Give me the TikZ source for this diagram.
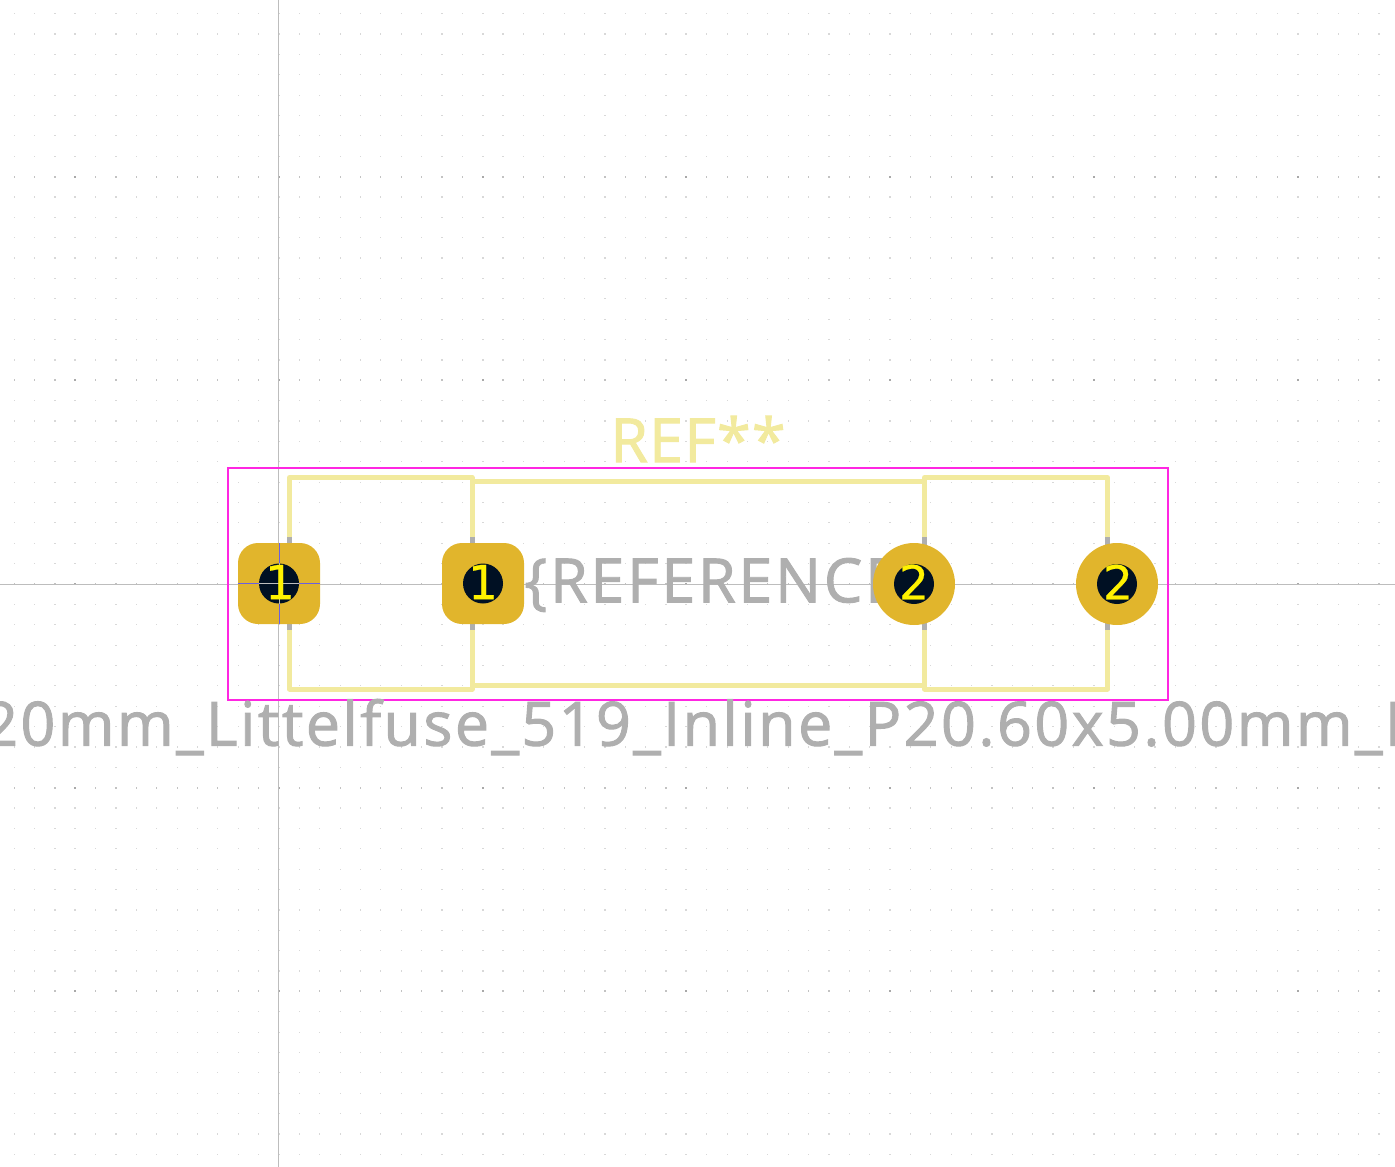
\documentclass[tikz,border=0pt]{standalone}
\usepackage{fontspec}
\setmainfont{Open Sans}
\newfontfamily\silkfont[LetterSpace=2,FakeBold=1.6]{Open Sans}
\newfontfamily\valuefont[LetterSpace=4.5,FakeBold=1.6]{Open Sans}
\newfontfamily\namefont[LetterSpace=4,FakeBold=1.6]{Open Sans}
\newfontfamily\padfont[FakeBold=0.5]{DejaVu Sans}
\definecolor{silk}{HTML}{F2EA9E}
\definecolor{fabgray}{HTML}{AFAFAF}
\definecolor{court}{HTML}{FF26E2}
\definecolor{padgold}{HTML}{E1B52C}
\definecolor{holedark}{HTML}{001023}
\definecolor{griddot}{HTML}{D8D8D8}
\definecolor{gridmajor}{HTML}{A8A8A8}
\definecolor{axisgray}{HTML}{BDBDBD}
\definecolor{crossblue}{HTML}{6A5FE0}
\tikzset{
    silkline/.style={draw=silk, line width=5pt, line join=round},
    fabline/.style={draw=fabgray, line width=5pt},
    padrect/.style={rectangle, rounded corners=20pt, fill=padgold, minimum width=82pt, minimum height=81pt, inner sep=0pt},
    padround/.style={circle, fill=padgold, minimum size=82pt, inner sep=0pt},
    padhole/.style={circle, fill=holedark, minimum size=40pt, inner sep=0pt},
    padnum/.style={text=yellow, inner sep=0pt, font=\padfont\fontsize{47}{47}\selectfont},
    fabtext/.style={text=fabgray, inner sep=0pt}
}
\begin{document}
\begin{tikzpicture}[x=1pt, y=-1pt]
    \useasboundingbox (0,0) rectangle (1395,1167);
    \clip (0,0) rectangle (1395,1167);

    % grid
    \foreach \i in {-13,...,54} {
        \foreach \j in {-28,...,28} {
            \fill[griddot] (279+20.37*\i-0.6, 584+20.37*\j-0.6) rectangle +(1.2,1.2);
        }
    }
    \foreach \i in {-1,0,...,5} {
        \foreach \j in {-28,...,28} {
            \fill[griddot] (279+203.7*\i-1, 584+20.37*\j-0.6) rectangle +(2,1.2);
        }
    }
    \foreach \i in {-13,...,54} {
        \foreach \j in {-2,...,2} {
            \fill[griddot!90!black] (279+20.37*\i-0.6, 584+203.7*\j-1) rectangle +(1.2,2);
        }
    }
    \foreach \i in {-1,0,...,5} {
        \foreach \j in {-2,...,2} {
            \fill[gridmajor] (279+203.7*\i-1, 584+203.7*\j-1) rectangle +(2,2);
        }
    }

    % axes
    \draw[axisgray, line width=1.2pt] (278.5,0) -- (278.5,1167);
    \draw[axisgray, line width=1.2pt] (0,584.5) -- (1395,584.5);

    % fab stubs
    \draw[fabline] (289,535) -- (289,545);
    \draw[fabline] (472,535) -- (472,545);
    \draw[fabline] (924,535) -- (924,545);
    \draw[fabline] (1107.5,535) -- (1107.5,545);
    \draw[fabline] (289,622) -- (289,632);
    \draw[fabline] (472,622) -- (472,632);
    \draw[fabline] (924,622) -- (924,632);
    \draw[fabline] (1107.5,622) -- (1107.5,632);

    % silkscreen
    \draw[silkline] (289.5,537) -- (289.5,477.5) -- (472,477.5) -- (472,537);
    \draw[silkline] (289.5,630) -- (289.5,689) -- (472,689) -- (472,630);
    \draw[silkline] (924.5,537) -- (924.5,477.5) -- (1107.5,477.5) -- (1107.5,537);
    \draw[silkline] (924.5,630) -- (924.5,689) -- (1107.5,689) -- (1107.5,630);
    \draw[silkline] (472,481) -- (924.5,481);
    \draw[silkline] (472,685) -- (924.5,685);

    % courtyard
    \draw[court, line width=2pt] (228,468) rectangle (1168,699.5);

    % texts
    \node[text=silk, inner sep=0pt, font=\silkfont\fontsize{61}{61}\selectfont] (refmark) at (698,439) {REF**};
    \node[fabtext, anchor=west, font=\valuefont\fontsize{61}{61}\selectfont] (refvalue) at (524,585) {\{REFERENCE};
    \node[fabtext, anchor=west, font=\namefont\fontsize{61}{61}\selectfont] (fpname) at (-17,727) {20mm\_Littelfuse\_519\_Inline\_P20.60x5.00mm\_I};

    % pads
    \node[padrect] (padA) at (279,583.5) {};
    \node[padrect] (padB) at (483,583.5) {};
    \node[padround] (padC) at (914,584) {};
    \node[padround] (padD) at (1117,584) {};
    \draw[crossblue, line width=1pt] (padA.west) -- (padA.east);
    \draw[crossblue, line width=1pt] (padA.north) -- (padA.south);
    \node[padhole] (holeA) at (padA) {};
    \node[padhole] (holeB) at (padB) {};
    \node[padhole] (holeC) at (padC) {};
    \node[padhole] (holeD) at (padD) {};
    \draw[axisgray, line width=1pt] (holeA.west) -- (holeA.east);
    \draw[axisgray, line width=1pt] (holeA.north) -- (holeA.south);
    \node[padnum] (numA) at (280,582) {1};
    \node[padnum] (numB) at (483,582) {1};
    \node[padnum] (numC) at (914,582) {2};
    \node[padnum] (numD) at (1118,582) {2};
\end{tikzpicture}
\end{document}
